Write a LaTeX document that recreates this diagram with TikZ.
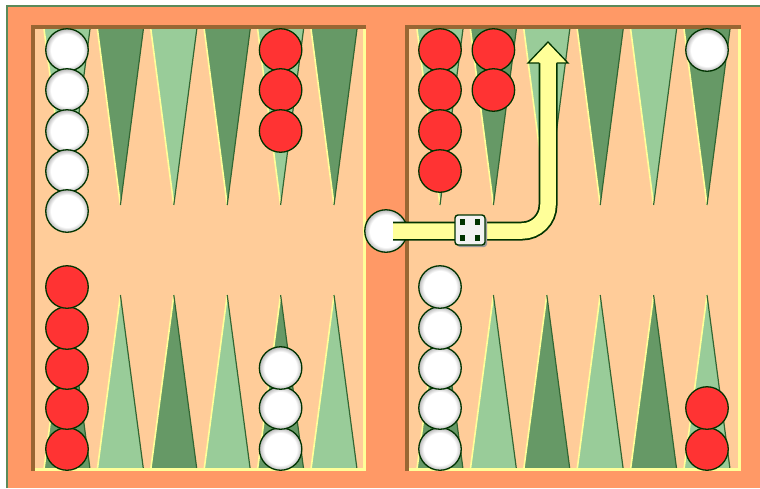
\documentclass[tikz,border=0pt]{standalone}
\usetikzlibrary{shadows}
\definecolor{frameor}{HTML}{FF9966}
\definecolor{fieldpe}{HTML}{FFCC99}
\definecolor{ptdark}{HTML}{669966}
\definecolor{ptlight}{HTML}{99CC99}
\definecolor{edgedk}{HTML}{336633}
\definecolor{hilite}{HTML}{FFFF99}
\definecolor{shadowbr}{HTML}{996633}
\definecolor{outl}{HTML}{003300}
\definecolor{chkred}{HTML}{FF3333}
\definecolor{bordergr}{HTML}{5A8A5A}
\pgfdeclareradialshading{whitechk}{\pgfpoint{0bp}{0bp}}{color(0bp)=(white); color(19bp)=(white); color(25bp)=(black!28); color(50bp)=(black!28)}
\tikzset{
  chk/.style={circle, minimum size=42.5pt, inner sep=0pt, draw=outl, line width=1.3pt},
  wchk/.style={chk, shade, shading=whitechk},
  rchk/.style={chk, fill=chkred},
  dicebox/.style={rectangle, minimum size=30pt, inner sep=0pt, rounded corners=3pt,
    fill=black!5, draw=outl, line width=1.4pt,
    drop shadow={shadow xshift=2pt, shadow yshift=-2pt, fill=black!40, opacity=1}},
  pip/.style={fill=outl},
  hiedge/.style={hilite, line width=1.6pt},
  dkedge/.style={edgedk, line width=1.2pt},
}
\begin{document}
\begin{tikzpicture}[x=1pt,y=-1pt]
\useasboundingbox (0,0) rectangle (760,488);
\fill[white] (0,0) rectangle (760,488);
% frame
\fill[frameor] (7,6) rectangle (760,488);
\draw[bordergr, line width=1.6pt] (7,488) -- (7,6) -- (760,6);
% fields
\fill[fieldpe] (31,25) rectangle (366,471);
\fill[fieldpe] (405,25) rectangle (741,471);
% points
\foreach \x [count=\i from 0] in {67,120.4,173.8,227.2,280.6,334,440,493.4,546.8,600.2,653.6,707}{
  \pgfmathtruncatemacro\pp{mod(\i,2)}
  \ifnum\pp=0 \def\topc{ptlight}\def\botc{ptdark}\else\def\topc{ptdark}\def\botc{ptlight}\fi
  \fill[\topc] (\x-23,29) -- (\x+23,29) -- (\x,205) -- cycle;
  \draw[hiedge] (\x-23,29) -- (\x,205);
  \draw[dkedge] (\x+23,29) -- (\x,205);
  \fill[\botc] (\x-23,469) -- (\x+23,469) -- (\x,295) -- cycle;
  \draw[hiedge] (\x-23,469) -- (\x,295);
  \draw[dkedge] (\x+23,469) -- (\x,295);
}
% bevels
\fill[shadowbr] (31,25) rectangle (366,29);
\fill[shadowbr] (31,25) rectangle (35,471);
\fill[hilite] (363,29) rectangle (366,471);
\fill[hilite] (35,468) rectangle (366,471);
\fill[shadowbr] (405,25) rectangle (741,29);
\fill[shadowbr] (405,25) rectangle (409,471);
\fill[hilite] (738,29) rectangle (741,471);
\fill[hilite] (409,468) rectangle (741,471);
% checkers, left half
\foreach \y [count=\k] in {50,90,131,171,211} \node[wchk] (lw\k) at (67,\y) {};
\foreach \y [count=\k] in {50,90,131} \node[rchk] (lr\k) at (280.6,\y) {};
\foreach \y [count=\k] in {449,408,368,328,287} \node[rchk] (lbr\k) at (67,\y) {};
\foreach \y [count=\k] in {449,408,368} \node[wchk] (lbw\k) at (280.6,\y) {};
% checkers, right half
\foreach \y [count=\k] in {50,90,131,171} \node[rchk] (rr\k) at (440,\y) {};
\foreach \y [count=\k] in {50,90} \node[rchk] (rs\k) at (493.4,\y) {};
\node[wchk] (rw1) at (707,50) {};
\foreach \y [count=\k] in {449,408,368,328,287} \node[wchk] (rbw\k) at (440,\y) {};
\foreach \y [count=\k] in {449,408} \node[rchk] (rbr\k) at (707,\y) {};
% bar checker
\node[wchk] (bar) at (386,231) {};
% move arrow
\coordinate (headbase) at (548,63);
\coordinate (arrtip) at (548,42);
\draw[outl, line width=19pt, rounded corners=26pt] ([xshift=7pt]bar.center) -| (headbase);
\draw[hilite, line width=15.5pt, rounded corners=26pt] ([xshift=7pt]bar.center) -| (headbase);
\filldraw[fill=hilite, draw=outl, line width=1.3pt, line join=miter]
  (539.3,63) -- (528,63) -- (arrtip) -- (568,63) -- (556.7,63);
% die
\node[dicebox] (die) at (470,230) {};
\foreach \dx/\dy in {-7.5/-8,7.5/-8,-7.5/8,7.5/8}
  \fill[pip] ([shift={(\dx-2.6,\dy-2.6)}]die.center) rectangle ([shift={(\dx+2.6,\dy+2.6)}]die.center);
\end{tikzpicture}
\end{document}
